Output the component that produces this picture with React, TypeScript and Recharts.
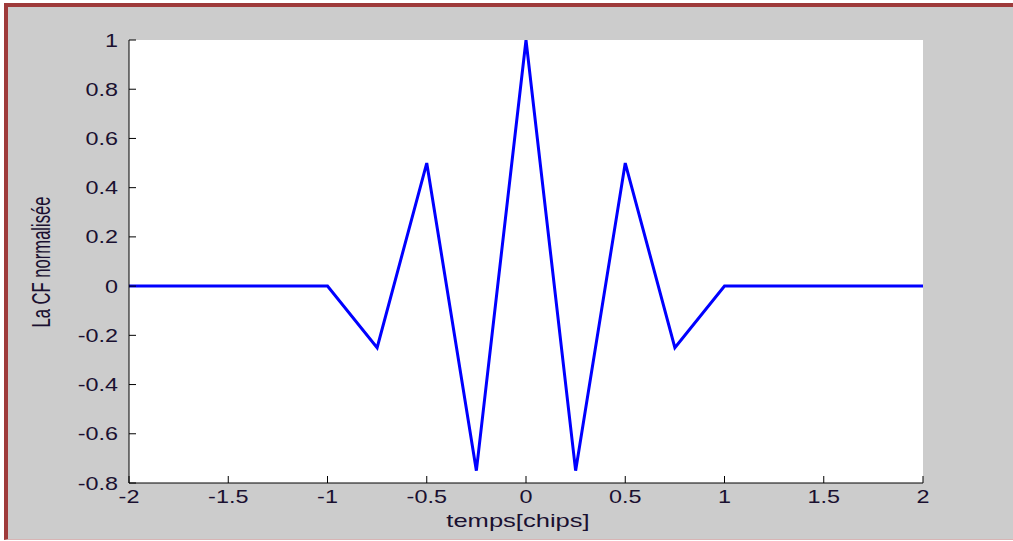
import React from 'react';
import { LineChart, Line, XAxis, YAxis, CartesianGrid } from 'recharts';

const xValues = [-2, -1, -0.75, -0.5, -0.25, 0, 0.25, 0.5, 0.75, 1, 2];
const cfValues = [0, 0, -0.25, 0.5, -0.75, 1, -0.75, 0.5, -0.25, 0, 0];
const xTicks = [-2, -1.5, -1, -0.5, 0, 0.5, 1, 1.5, 2];
const yTicks = [-0.8, -0.6, -0.4, -0.2, 0, 0.2, 0.4, 0.6, 0.8, 1];
const xLabel = 'temps[chips]';
const yLabel = 'La CF normalisée';

const data = xValues.map((x, i) => ({ x, y: cfValues[i] }));

const FONT = '"Liberation Sans", Arial, sans-serif';
const TEXT_COLOR = '#1a1030';
const SX = 1.3;
const FS = 18;

const LeftTick = (props: any) => {
  const { x, y, payload } = props;
  return (
    <g>
      <line x1={x} x2={x + 7} y1={y} y2={y} stroke="#000" strokeWidth={1} />
      <text
        transform={`translate(${x - 11},${y + 6.5}) scale(${SX},1)`}
        textAnchor="end"
        fontFamily={FONT}
        fontSize={FS}
        fill={TEXT_COLOR}
      >
        {String(payload.value)}
      </text>
    </g>
  );
};

const RightTick = (props: any) => {
  const { x, y } = props;
  return <line x1={x} x2={x - 7} y1={y} y2={y} stroke="#000" strokeWidth={1} />;
};

const BottomTick = (props: any) => {
  const { x, y, payload } = props;
  return (
    <g>
      <line x1={x} x2={x} y1={y} y2={y - 7} stroke="#000" strokeWidth={1} />
      <text
        transform={`translate(${x},${y + 20}) scale(${SX},1)`}
        textAnchor="middle"
        fontFamily={FONT}
        fontSize={FS}
        fill={TEXT_COLOR}
      >
        {String(payload.value)}
      </text>
    </g>
  );
};

const TopTick = (props: any) => {
  const { x, y } = props;
  return <line x1={x} x2={x} y1={y} y2={y + 7} stroke="#000" strokeWidth={1} />;
};

export default function App() {
  return (
    <div style={{ position: 'absolute', left: 0, top: 0, width: 1013, height: 541, background: '#ffffff', overflow: 'hidden' }}>
      <div
        style={{
          position: 'absolute',
          left: 4,
          top: 3,
          width: 1009,
          height: 537,
          boxSizing: 'border-box',
          background: '#cccccc',
          borderTop: '4px solid #9e3a3a',
          borderLeft: '4px solid #9e3a3a',
          borderBottom: '1px solid #d8b4b4',
        }}
      />
      <div style={{ position: 'absolute', left: 0, top: 0 }}>
        <LineChart
          width={1013}
          height={541}
          data={data}
          margin={{ top: 40, right: 90, bottom: 28, left: 69 }}
        >
          <CartesianGrid fill="#ffffff" horizontal={false} vertical={false} />
          <XAxis
            dataKey="x"
            type="number"
            domain={[-2, 2]}
            ticks={xTicks}
            interval={0}
            height={30}
            tickSize={0}
            tickMargin={0}
            tickLine={false}
            axisLine={{ stroke: '#000', strokeWidth: 1 }}
            tick={<BottomTick />}
            allowDataOverflow
          />
          <XAxis
            xAxisId="top"
            orientation="top"
            type="number"
            domain={[-2, 2]}
            ticks={xTicks}
            interval={0}
            height={0}
            tickSize={0}
            tickMargin={0}
            tickLine={false}
            axisLine={{ stroke: '#000', strokeWidth: 1 }}
            tick={<TopTick />}
            allowDataOverflow
          />
          <YAxis
            type="number"
            domain={[-0.8, 1]}
            ticks={yTicks}
            interval={0}
            width={60}
            tickSize={0}
            tickMargin={0}
            tickLine={false}
            axisLine={{ stroke: '#000', strokeWidth: 1 }}
            tick={<LeftTick />}
            allowDataOverflow
          />
          <YAxis
            yAxisId="right"
            orientation="right"
            type="number"
            domain={[-0.8, 1]}
            ticks={yTicks}
            interval={0}
            width={0}
            tickSize={0}
            tickMargin={0}
            tickLine={false}
            axisLine={{ stroke: '#000', strokeWidth: 1 }}
            tick={<RightTick />}
            allowDataOverflow
          />
          <Line
            type="linear"
            dataKey="y"
            stroke="#0000ff"
            strokeWidth={3}
            dot={false}
            activeDot={false}
            isAnimationActive={false}
          />
        </LineChart>
      </div>
      <svg width={1013} height={541} style={{ position: 'absolute', left: 0, top: 0, pointerEvents: 'none' }}>
        <text
          transform={`translate(518,527) scale(1.42,1)`}
          textAnchor="middle"
          fontFamily={FONT}
          fontSize={18}
          fill={TEXT_COLOR}
        >
          {xLabel}
        </text>
        <text
          transform={`translate(50,262) scale(1.5,1) rotate(-90)`}
          textAnchor="middle"
          fontFamily={FONT}
          fontSize={16.6}
          fill={TEXT_COLOR}
        >
          {yLabel}
        </text>
      </svg>
    </div>
  );
}
